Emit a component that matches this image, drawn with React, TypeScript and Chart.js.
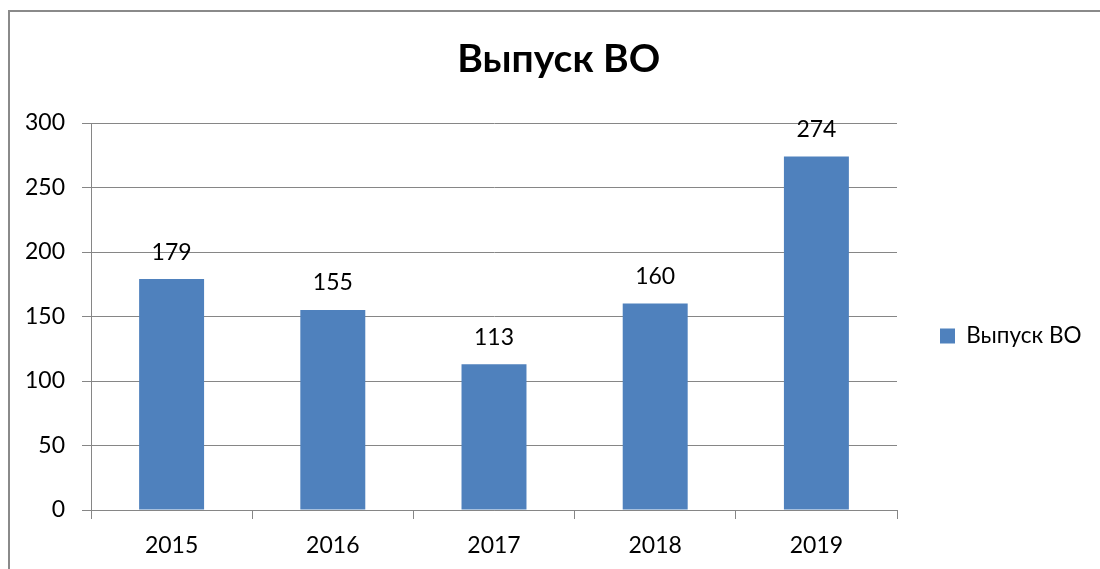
import React, { useEffect, useRef } from 'react';
import { Chart, registerables } from 'chart.js';

Chart.register(...registerables);

// ---- data ----
const categories: string[] = ['2015', '2016', '2017', '2018', '2019'];
const values: number[] = [179, 155, 113, 160, 274];
const seriesName = 'Выпуск ВО';
const chartTitle = 'Выпуск ВО';
const yMin = 0;
const yMax = 300;
const yStep = 50;

// ---- styling / layout ----
const W = 1100;
const H = 700;
const FONT = 'Lato, "Open Sans", sans-serif';
const BAR_COLOR = '#4F81BD';
const GRID_COLOR = '#868686';
const TEXT_COLOR = '#000000';
const TICK_FONT = 23;
const LEGEND_FONT = 22.5;
const TITLE_FONT = 39;
const LEGEND_PAD = 43;
const PLOT_LEFT = 91;
const PLOT_RIGHT = 897;
const PLOT_TOP = 123;
const PLOT_BOTTOM = 510;
const LEFT_PAD = 26;
const LEGEND_CENTER_Y = 336;

const framePlugin = {
  id: 'frame',
  beforeDraw(chart: any) {
    const ctx = chart.ctx;
    ctx.save();
    ctx.fillStyle = '#ffffff';
    ctx.fillRect(0, 0, chart.width, chart.height);
    ctx.fillStyle = '#8a8a8a';
    ctx.fillRect(8, 10, 2, chart.height);
    ctx.fillRect(8, 10, chart.width, 2);
    ctx.restore();
  },
};

const valueLabelPlugin = {
  id: 'valueLabels',
  afterDatasetsDraw(chart: any) {
    const ctx = chart.ctx;
    const meta = chart.getDatasetMeta(0);
    ctx.save();
    ctx.font = `${TICK_FONT}px ${FONT}`;
    ctx.fillStyle = TEXT_COLOR;
    ctx.textAlign = 'center';
    ctx.textBaseline = 'middle';
    meta.data.forEach((el: any, i: number) => {
      ctx.fillText(String(values[i]), el.x, el.y - 27);
    });
    ctx.restore();
  },
};

export default function App() {
  const canvasRef = useRef<HTMLCanvasElement | null>(null);

  useEffect(() => {
    if (!canvasRef.current) return;

    // measure legend text to derive layout paddings
    const mc = document.createElement('canvas').getContext('2d')!;
    mc.font = `${LEGEND_FONT}px ${FONT}`;
    const textW = mc.measureText(seriesName).width;
    const legendWidth = LEGEND_PAD + 15 + LEGEND_FONT / 2 + textW + 10;
    const padR = W - PLOT_RIGHT - legendWidth;
    const padL = LEFT_PAD;
    const yAxisWidth = PLOT_LEFT - padL;
    const padT = 0;
    const contentBottom = 2 * LEGEND_CENTER_Y - padT;
    const padB = H - contentBottom;
    const xAxisHeight = contentBottom - PLOT_BOTTOM;
    const titleLine = TITLE_FONT * 1.2;
    const titleTop = 36;
    const titleBottom = PLOT_TOP - padT - titleTop - titleLine;

    const chart = new Chart(canvasRef.current, {
      type: 'bar',
      data: {
        labels: categories,
        datasets: [
          {
            label: seriesName,
            data: values,
            backgroundColor: BAR_COLOR,
            borderWidth: 0,
            barPercentage: 0.403,
            categoryPercentage: 1,
          },
        ],
      },
      options: {
        responsive: false,
        animation: false,
        events: [],
        devicePixelRatio: 1,
        layout: {
          padding: { left: padL, right: padR, top: padT, bottom: padB },
        },
        plugins: {
          title: {
            display: true,
            text: chartTitle,
            color: TEXT_COLOR,
            font: { family: FONT, size: TITLE_FONT, weight: 'bold' },
            padding: { top: titleTop, bottom: titleBottom },
          },
          legend: {
            display: true,
            position: 'right',
            align: 'center',
            labels: {
              boxWidth: 15,
              boxHeight: 15,
              padding: LEGEND_PAD,
              color: TEXT_COLOR,
              font: { family: FONT, size: LEGEND_FONT },
            },
          },
          tooltip: { enabled: false },
        },
        scales: {
          x: {
            afterFit(scale: any) {
              scale.height = xAxisHeight;
            },
            grid: {
              display: true,
              drawOnChartArea: false,
              drawTicks: true,
              tickLength: 9,
              color: GRID_COLOR,
              offset: true,
            },
            border: { display: true, color: GRID_COLOR },
            ticks: {
              color: TEXT_COLOR,
              font: { family: FONT, size: TICK_FONT },
              padding: 13,
              maxRotation: 0,
            },
          },
          y: {
            min: yMin,
            max: yMax,
            afterFit(scale: any) {
              scale.width = yAxisWidth;
            },
            grid: {
              color: GRID_COLOR,
              tickLength: 9,
              drawTicks: true,
            },
            border: { display: true, color: GRID_COLOR },
            ticks: {
              stepSize: yStep,
              color: TEXT_COLOR,
              font: { family: FONT, size: TICK_FONT },
              padding: 17,
            },
          },
        },
      },
      plugins: [framePlugin, valueLabelPlugin],
    } as any);

    return () => chart.destroy();
  }, []);

  return (
    <div
      style={{
        position: 'fixed',
        left: 0,
        top: 0,
        width: W,
        height: 569,
        overflow: 'hidden',
        background: '#fff',
      }}
    >
      <canvas ref={canvasRef} width={W} height={H} style={{ display: 'block' }} />
    </div>
  );
}
